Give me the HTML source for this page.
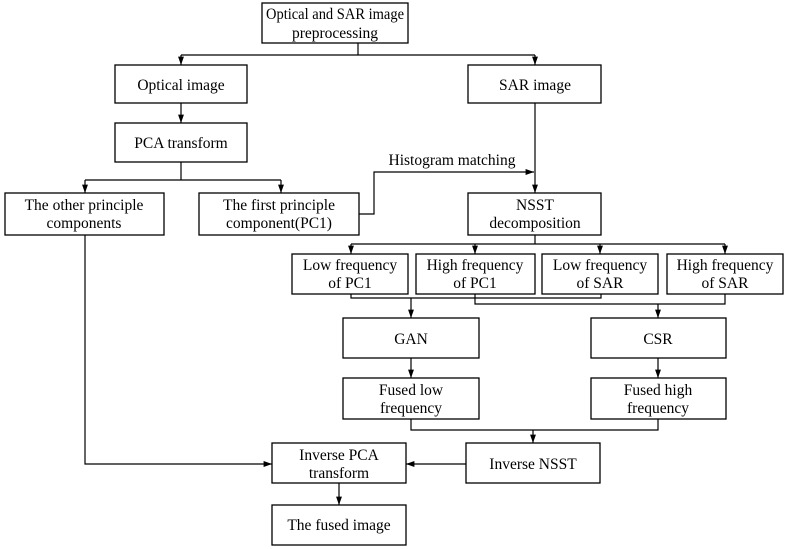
<!DOCTYPE html>
<html><head><style>body{margin:0;background:#fff}svg{display:block}text{font-family:"Liberation Serif",serif;font-size:15.5px;fill:#000}</style></head><body>
<svg width="789" height="549" viewBox="0 0 789 549" xmlns="http://www.w3.org/2000/svg">
<defs><marker id="a" viewBox="0 0 10 10" refX="10" refY="5" markerWidth="7" markerHeight="7" orient="auto"><path d="M0,1.5 L10,5 L0,8.5z" fill="#000"/></marker></defs>
<g fill="none" stroke="#000" stroke-width="1.3">
<rect x="262" y="3" width="146" height="40"/>
<rect x="115" y="65" width="132" height="38"/>
<rect x="468" y="65" width="133" height="38"/>
<rect x="115" y="123" width="132" height="39"/>
<rect x="5" y="193" width="159" height="42"/>
<rect x="199" y="193" width="160" height="42"/>
<rect x="468" y="193" width="133" height="42"/>
<rect x="292" y="254" width="116" height="40"/>
<rect x="416" y="254" width="119" height="40"/>
<rect x="542" y="254" width="116" height="40"/>
<rect x="667" y="254" width="116" height="40"/>
<rect x="343" y="318" width="136" height="40"/>
<rect x="591" y="318" width="135" height="40"/>
<rect x="343" y="378" width="136" height="41"/>
<rect x="591" y="378" width="135" height="41"/>
<rect x="272" y="443" width="134" height="40"/>
<rect x="466" y="443" width="134" height="40"/>
<rect x="272" y="505" width="134" height="40"/>
</g>
<g fill="none" stroke="#000" stroke-width="1.2">
<path d="M358,43V55M181,55H535"/><path d="M181,55V65" marker-end="url(#a)"/><path d="M535,55V65" marker-end="url(#a)"/>
<path d="M181,103V123" marker-end="url(#a)"/>
<path d="M181,162V180M85,180H281"/><path d="M85,180V193" marker-end="url(#a)"/><path d="M281,180V193" marker-end="url(#a)"/>
<path d="M535,103V193" marker-end="url(#a)"/>
<path d="M359,214H374V172H534" marker-end="url(#a)"/>
<path d="M535,235V244M351,244H725"/>
<path d="M351,244V254" marker-end="url(#a)"/><path d="M475,244V254" marker-end="url(#a)"/><path d="M600,244V254" marker-end="url(#a)"/><path d="M725,244V254" marker-end="url(#a)"/>
<path d="M351,294V298H601V294"/><path d="M411,298V318" marker-end="url(#a)"/>
<path d="M475,294V304H725V294"/><path d="M658,304V318" marker-end="url(#a)"/>
<path d="M411,358V378" marker-end="url(#a)"/><path d="M658,358V378" marker-end="url(#a)"/>
<path d="M411,419V430H658V419"/><path d="M533,430V443" marker-end="url(#a)"/>
<path d="M466,464H406" marker-end="url(#a)"/>
<path d="M85,235V464H272" marker-end="url(#a)"/>
<path d="M339,483V505" marker-end="url(#a)"/>
</g>
<g text-anchor="middle">
<text x="335" y="19" textLength="138" lengthAdjust="spacingAndGlyphs">Optical and SAR image</text><text x="335" y="38">preprocessing</text>
<text x="181" y="90">Optical image</text>
<text x="535" y="90">SAR image</text>
<text x="181" y="148">PCA transform</text>
<text x="84" y="210">The other principle</text><text x="84" y="228">components</text>
<text x="279" y="210">The first principle</text><text x="279" y="228">component(PC1)</text>
<text x="452" y="165">Histogram matching</text>
<text x="535" y="210">NSST</text><text x="535" y="228">decomposition</text>
<text x="350" y="270">Low frequency</text><text x="350" y="288">of PC1</text>
<text x="475" y="270">High frequency</text><text x="475" y="288">of PC1</text>
<text x="600" y="270">Low frequency</text><text x="600" y="288">of SAR</text>
<text x="725" y="270">High frequency</text><text x="725" y="288">of SAR</text>
<text x="411" y="344">GAN</text>
<text x="658" y="344">CSR</text>
<text x="411" y="395">Fused low</text><text x="411" y="413">frequency</text>
<text x="658" y="395">Fused high</text><text x="658" y="413">frequency</text>
<text x="339" y="460">Inverse PCA</text><text x="339" y="478">transform</text>
<text x="533" y="469">Inverse NSST</text>
<text x="339" y="530">The fused image</text>
</g>
</svg>
</body></html>
